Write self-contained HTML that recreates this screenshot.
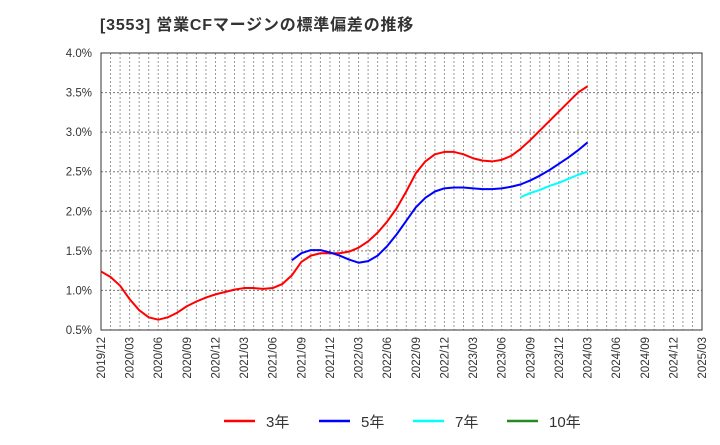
<!DOCTYPE html>
<html><head><meta charset="utf-8"><style>
body{margin:0;background:#fff;}
svg text{font-family:"Liberation Sans","Noto Sans CJK JP",sans-serif;}
</style></head><body>
<svg id="c" width="720" height="440">
<text x="100" y="30" font-size="16" letter-spacing="0.8" font-weight="bold" fill="#333">[3553]  営業CFマージンの標準偏差の推移</text>
<g id="grid"></g>
<g id="axes"></g>
<g id="series"></g>
<g id="legend"></g>
</svg>
<script>
const yTicks=[0.5,1.0,1.5,2.0,2.5,3.0,3.5,4.0];
const xTickLabels=["2019/12","2020/03","2020/06","2020/09","2020/12","2021/03","2021/06","2021/09","2021/12","2022/03","2022/06","2022/09","2022/12","2023/03","2023/06","2023/09","2023/12","2024/03","2024/06","2024/09","2024/12","2025/03"];
const s3Start=0;
const s3=[1.24,1.17,1.06,0.89,0.75,0.66,0.63,0.66,0.72,0.80,0.86,0.91,0.95,0.98,1.01,1.03,1.03,1.02,1.03,1.08,1.19,1.36,1.44,1.47,1.47,1.47,1.49,1.54,1.62,1.73,1.87,2.04,2.25,2.48,2.63,2.72,2.75,2.75,2.72,2.67,2.64,2.63,2.65,2.70,2.79,2.90,3.02,3.14,3.26,3.38,3.50,3.58];
const s5Start=20;
const s5=[1.38,1.47,1.51,1.51,1.48,1.44,1.39,1.35,1.37,1.44,1.56,1.71,1.88,2.05,2.17,2.25,2.29,2.30,2.30,2.29,2.28,2.28,2.29,2.31,2.34,2.39,2.45,2.52,2.60,2.68,2.77,2.87];
const s7Start=44;
const s7=[2.18,2.23,2.27,2.32,2.36,2.41,2.46,2.50];
const L=101,R=702,T=53,B=330,NM=63;
const X=m=>L+(R-L)*m/NM;
const Y=v=>B-(v-0.5)/3.5*(B-T);
const NS="http://www.w3.org/2000/svg";
function mk(tag,at,parent){const e=document.createElementNS(NS,tag);for(const k in at)e.setAttribute(k,at[k]);parent.appendChild(e);return e;}
const grid=document.getElementById('grid'),axes=document.getElementById('axes'),ser=document.getElementById('series'),leg=document.getElementById('legend');
for(let m=1;m<NM;m++){const l=mk('line',{x1:X(m),x2:X(m),y1:T,y2:B,stroke:'#999','stroke-dasharray':'2,2','stroke-width':1},grid);

}
yTicks.forEach(v=>{if(v>0.5&&v<4){const l=mk('line',{x1:L,x2:R,y1:Y(v),y2:Y(v),stroke:'#777','stroke-dasharray':'2,2','stroke-width':1},grid);

}
const t=mk('text',{x:92,y:Y(v)+4,'text-anchor':'end','font-size':11.5,fill:'#333'},axes);t.textContent=v.toFixed(1)+'%';

});
const fr=mk('rect',{x:L,y:T,width:R-L,height:B-T,fill:'none',stroke:'#333','stroke-width':1},axes);


xTickLabels.forEach((s,i)=>{const x=X(i*3)+4;const t=mk('text',{x:x,y:337,transform:`rotate(-90 ${x} 337)`,'text-anchor':'end','font-size':11.5,fill:'#333'},axes);t.textContent=s;

});
function line(d,st,c,name){const p=mk('polyline',{points:d.map((v,i)=>X(st+i)+','+Y(v)).join(' '),fill:'none',stroke:c,'stroke-width':2,'stroke-linejoin':'round'},ser);

}
line(s3,s3Start,'#ff0000','line-3y');line(s5,s5Start,'#0000ff','line-5y');line(s7,s7Start,'#00ffff','line-7y');
[['3年','#ff0000',224],['5年','#0000ff',319],['7年','#00ffff',413],['10年','#228b22',507]].forEach(([n,c,x])=>{
const g=mk('g',{},leg);

mk('line',{x1:x,x2:x+31,y1:421,y2:421,stroke:c,'stroke-width':2.5},g);
const t=mk('text',{x:x+42,y:427,'font-size':15,fill:'#333'},g);t.textContent=n;});
</script>
</body></html>
